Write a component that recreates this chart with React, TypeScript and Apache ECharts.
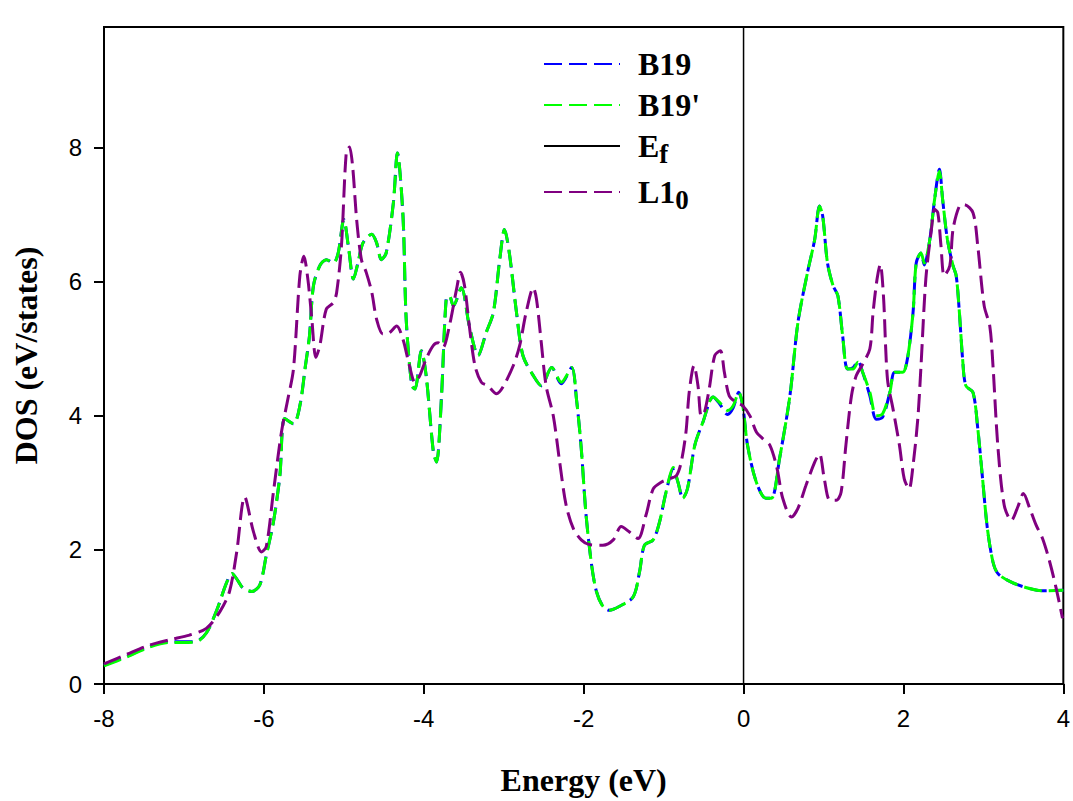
import React, { useEffect, useRef } from "react";
import * as echarts from "echarts";

// Energy (eV), DOS (states/eV)
const b19Points: [number, number][] = [
  [-8.0, 0.28], [-7.72, 0.41], [-7.43, 0.56], [-7.18, 0.63], [-6.95, 0.63], [-6.84, 0.64],
  [-6.72, 0.76], [-6.59, 1.1], [-6.47, 1.5], [-6.4, 1.65], [-6.33, 1.55], [-6.26, 1.43],
  [-6.15, 1.38], [-6.05, 1.48], [-5.97, 1.92], [-5.88, 2.42], [-5.8, 3.11], [-5.74, 3.96],
  [-5.63, 3.88], [-5.55, 4.15], [-5.48, 4.75], [-5.43, 5.19], [-5.38, 5.94], [-5.3, 6.24],
  [-5.22, 6.33], [-5.13, 6.28], [-5.07, 6.43], [-5.0, 6.93], [-4.94, 6.5], [-4.88, 6.04],
  [-4.82, 6.3], [-4.76, 6.58], [-4.65, 6.71], [-4.59, 6.58], [-4.53, 6.33], [-4.47, 6.43],
  [-4.38, 7.18], [-4.33, 7.92], [-4.26, 6.98], [-4.22, 5.44], [-4.15, 4.45], [-4.11, 4.4],
  [-4.03, 4.97], [-3.97, 4.6], [-3.88, 3.46], [-3.84, 3.31], [-3.78, 4.25], [-3.72, 5.74],
  [-3.68, 5.79], [-3.63, 5.64], [-3.53, 5.91], [-3.43, 5.34], [-3.32, 4.9], [-3.22, 5.24],
  [-3.13, 5.54], [-3.05, 6.33], [-2.99, 6.78], [-2.93, 6.43], [-2.84, 5.54], [-2.76, 4.9],
  [-2.63, 4.6], [-2.53, 4.45], [-2.4, 4.72], [-2.28, 4.48], [-2.15, 4.72], [-2.09, 4.25],
  [-2.03, 3.51], [-1.97, 2.52], [-1.9, 1.77], [-1.84, 1.38], [-1.76, 1.16], [-1.68, 1.1],
  [-1.55, 1.16], [-1.38, 1.3], [-1.3, 1.68], [-1.24, 2.07], [-1.13, 2.15], [-1.05, 2.42],
  [-0.97, 2.86], [-0.88, 3.2], [-0.82, 3.01], [-0.76, 2.77], [-0.7, 2.92], [-0.61, 3.56],
  [-0.51, 3.9], [-0.38, 4.28], [-0.3, 4.18], [-0.2, 4.02], [-0.13, 4.12], [-0.06, 4.35],
  [-0.01, 4.15], [0.05, 3.56], [0.16, 3.01], [0.28, 2.77], [0.35, 2.77], [0.45, 3.36],
  [0.58, 4.3], [0.68, 5.39], [0.8, 6.14], [0.89, 6.63], [0.95, 7.13], [0.99, 6.98],
  [1.05, 6.28], [1.12, 5.94], [1.18, 5.79], [1.24, 5.19], [1.3, 4.7], [1.37, 4.72],
  [1.43, 4.82], [1.49, 4.65], [1.58, 4.3], [1.66, 3.95], [1.74, 3.98], [1.83, 4.35],
  [1.89, 4.65], [1.99, 4.65], [2.05, 4.85], [2.12, 5.54], [2.16, 6.28], [2.22, 6.43],
  [2.26, 6.25], [2.33, 6.63], [2.39, 7.23], [2.45, 7.68], [2.49, 7.23], [2.55, 6.63],
  [2.62, 6.24], [2.66, 6.09], [2.7, 5.54], [2.74, 4.85], [2.78, 4.45], [2.87, 4.35],
  [2.93, 3.81], [2.99, 3.06], [3.05, 2.32], [3.12, 1.82], [3.18, 1.65], [3.33, 1.53],
  [3.53, 1.44], [3.74, 1.39], [4.0, 1.4],
];

const b19PrimePoints: [number, number][] = [
  [-8.0, 0.27], [-7.72, 0.4], [-7.43, 0.55], [-7.18, 0.62], [-6.95, 0.62], [-6.84, 0.63],
  [-6.72, 0.76], [-6.59, 1.1], [-6.47, 1.5], [-6.4, 1.65], [-6.33, 1.55], [-6.26, 1.43],
  [-6.15, 1.38], [-6.05, 1.48], [-5.97, 1.92], [-5.88, 2.42], [-5.8, 3.11], [-5.74, 3.96],
  [-5.63, 3.88], [-5.55, 4.15], [-5.48, 4.75], [-5.43, 5.19], [-5.38, 5.94], [-5.3, 6.24],
  [-5.22, 6.33], [-5.13, 6.28], [-5.07, 6.43], [-5.0, 6.93], [-4.94, 6.5], [-4.88, 6.04],
  [-4.82, 6.3], [-4.76, 6.58], [-4.65, 6.71], [-4.59, 6.58], [-4.53, 6.33], [-4.47, 6.43],
  [-4.38, 7.18], [-4.33, 7.92], [-4.26, 6.98], [-4.22, 5.44], [-4.15, 4.45], [-4.11, 4.4],
  [-4.03, 4.97], [-3.97, 4.6], [-3.88, 3.46], [-3.84, 3.31], [-3.78, 4.25], [-3.72, 5.74],
  [-3.68, 5.79], [-3.63, 5.64], [-3.53, 5.91], [-3.43, 5.34], [-3.32, 4.9], [-3.22, 5.24],
  [-3.13, 5.54], [-3.05, 6.33], [-2.99, 6.78], [-2.93, 6.43], [-2.84, 5.54], [-2.76, 4.9],
  [-2.63, 4.6], [-2.53, 4.45], [-2.4, 4.72], [-2.28, 4.5], [-2.15, 4.72], [-2.09, 4.25],
  [-2.03, 3.51], [-1.97, 2.52], [-1.9, 1.77], [-1.84, 1.38], [-1.76, 1.16], [-1.68, 1.1],
  [-1.55, 1.16], [-1.38, 1.3], [-1.3, 1.68], [-1.24, 2.07], [-1.13, 2.15], [-1.05, 2.42],
  [-0.97, 2.86], [-0.88, 3.23], [-0.82, 3.01], [-0.76, 2.77], [-0.7, 2.92], [-0.61, 3.56],
  [-0.51, 3.9], [-0.38, 4.28], [-0.3, 4.2], [-0.2, 4.08], [-0.13, 4.15], [-0.06, 4.35],
  [-0.01, 4.15], [0.05, 3.56], [0.16, 3.01], [0.28, 2.77], [0.35, 2.77], [0.45, 3.36],
  [0.58, 4.3], [0.68, 5.39], [0.8, 6.14], [0.89, 6.63], [0.95, 7.13], [0.99, 6.98],
  [1.05, 6.28], [1.12, 5.94], [1.18, 5.79], [1.24, 5.19], [1.3, 4.7], [1.37, 4.7],
  [1.43, 4.8], [1.49, 4.65], [1.58, 4.35], [1.66, 4.0], [1.74, 4.03], [1.83, 4.35],
  [1.89, 4.65], [1.99, 4.65], [2.05, 4.85], [2.12, 5.54], [2.16, 6.28], [2.22, 6.43],
  [2.26, 6.28], [2.33, 6.63], [2.39, 7.23], [2.45, 7.65], [2.49, 7.23], [2.55, 6.63],
  [2.62, 6.24], [2.66, 6.09], [2.7, 5.54], [2.74, 4.85], [2.78, 4.45], [2.87, 4.35],
  [2.93, 3.81], [2.99, 3.06], [3.05, 2.32], [3.12, 1.82], [3.18, 1.65], [3.33, 1.53],
  [3.53, 1.44], [3.74, 1.39], [4.0, 1.4],
];

const l10Points: [number, number][] = [
  [-8.0, 0.3], [-7.72, 0.44], [-7.43, 0.58], [-7.18, 0.66], [-6.93, 0.73], [-6.72, 0.83],
  [-6.55, 1.08], [-6.43, 1.38], [-6.34, 1.97], [-6.24, 2.79], [-6.13, 2.27], [-6.03, 1.97],
  [-5.97, 2.05], [-5.88, 2.87], [-5.78, 3.76], [-5.7, 4.25], [-5.63, 4.7], [-5.55, 6.09],
  [-5.5, 6.38], [-5.45, 6.04], [-5.4, 5.44], [-5.35, 4.87], [-5.3, 5.05], [-5.22, 5.59],
  [-5.13, 5.69], [-5.09, 5.84], [-5.03, 6.53], [-4.97, 7.92], [-4.93, 8.01], [-4.89, 7.72],
  [-4.84, 6.93], [-4.78, 6.33], [-4.72, 6.14], [-4.65, 5.84], [-4.59, 5.44], [-4.51, 5.22],
  [-4.43, 5.24], [-4.34, 5.34], [-4.26, 5.14], [-4.18, 4.75], [-4.11, 4.5], [-4.05, 4.6],
  [-3.97, 4.85], [-3.88, 5.05], [-3.82, 5.09], [-3.76, 5.02], [-3.68, 5.34], [-3.59, 5.89],
  [-3.54, 6.14], [-3.49, 5.94], [-3.43, 5.34], [-3.36, 4.75], [-3.28, 4.5], [-3.2, 4.45],
  [-3.09, 4.33], [-3.01, 4.43], [-2.88, 4.75], [-2.8, 5.05], [-2.72, 5.54], [-2.63, 5.91],
  [-2.59, 5.74], [-2.53, 5.09], [-2.47, 4.45], [-2.38, 4.0], [-2.3, 3.31], [-2.22, 2.67],
  [-2.13, 2.32], [-2.03, 2.15], [-1.93, 2.08], [-1.76, 2.07], [-1.63, 2.15], [-1.53, 2.35],
  [-1.43, 2.27], [-1.32, 2.17], [-1.22, 2.52], [-1.13, 2.91], [-1.03, 3.01], [-0.93, 3.06],
  [-0.84, 3.11], [-0.78, 3.31], [-0.72, 3.76], [-0.68, 4.35], [-0.62, 4.75], [-0.57, 4.45],
  [-0.53, 4.0], [-0.49, 4.05], [-0.43, 4.4], [-0.36, 4.9], [-0.29, 4.97], [-0.24, 4.65],
  [-0.18, 4.3], [-0.09, 4.2], [-0.01, 4.15], [0.08, 4.0], [0.16, 3.76], [0.24, 3.66],
  [0.33, 3.56], [0.42, 3.21], [0.49, 2.77], [0.6, 2.49], [0.68, 2.62], [0.78, 2.96],
  [0.89, 3.31], [0.95, 3.43], [1.01, 3.06], [1.08, 2.74], [1.16, 2.74], [1.22, 2.86],
  [1.28, 3.56], [1.35, 4.3], [1.41, 4.6], [1.49, 4.77], [1.58, 5.0], [1.62, 5.54],
  [1.67, 6.04], [1.71, 6.26], [1.75, 5.79], [1.8, 4.55], [1.87, 4.1], [1.95, 3.56],
  [2.01, 3.06], [2.07, 2.91], [2.12, 3.26], [2.18, 3.96], [2.22, 4.75], [2.28, 6.04],
  [2.35, 6.78], [2.39, 7.08], [2.43, 7.03], [2.47, 6.53], [2.51, 6.09], [2.58, 6.24],
  [2.62, 6.78], [2.7, 7.13], [2.76, 7.15], [2.87, 7.03], [2.93, 6.53], [3.01, 5.64],
  [3.08, 5.34], [3.12, 4.75], [3.18, 3.56], [3.26, 2.67], [3.35, 2.44], [3.43, 2.64],
  [3.5, 2.84], [3.58, 2.62], [3.66, 2.37], [3.74, 2.17], [3.83, 1.82], [3.91, 1.43],
  [3.99, 0.98],
];

const fermiLinePoints: [number, number][] = [[0, 0], [0, 9.8]];

const seriesNames = ["B19", "B19'", "Ef", "L10"];
const xTicks = [-8, -6, -4, -2, 0, 2, 4];
const yTicks = [0, 2, 4, 6, 8];

const SERIF = '"Times New Roman", "Liberation Serif", serif';
const SANS = 'Arial, "Liberation Sans", sans-serif';

export default function App() {
  const ref = useRef<HTMLDivElement>(null);

  useEffect(() => {
    if (!ref.current) return;
    const chart = echarts.init(ref.current, undefined, { renderer: "svg" });
    const dash = [18, 7];
    const option: any = {
      animation: false,
      backgroundColor: "#ffffff",
      grid: {
        left: 104,
        right: 9,
        top: 27,
        bottom: 115,
        show: true,
        borderColor: "#000",
        borderWidth: 2,
        containLabel: false,
      },
      legend: {
        orient: "vertical",
        left: 543,
        top: 48,
        padding: 0,
        itemWidth: 76,
        itemHeight: 14,
        itemGap: 9,
        selectedMode: false,
        data: seriesNames,
        itemStyle: { opacity: 0, borderWidth: 0 },
        formatter: (name: string) => {
          if (name === "Ef") return "{m|E}{s|f}";
          if (name === "L10") return "{m|L1}{s|0}";
          return `{m|${name}}`;
        },
        textStyle: {
          padding: [0, 0, 0, 13],
          rich: {
            m: {
              fontFamily: SERIF,
              fontWeight: "bold",
              fontSize: 32,
              lineHeight: 32,
              color: "#000",
              verticalAlign: "top",
            },
            s: {
              fontFamily: SERIF,
              fontWeight: "bold",
              fontSize: 27,
              lineHeight: 28,
              padding: [10, 0, 0, 0],
              color: "#000",
              verticalAlign: "top",
            },
          },
        },
      },
      xAxis: {
        type: "value",
        min: -8,
        max: 4,
        interval: 2,
        name: "Energy (eV)",
        nameLocation: "middle",
        nameGap: 80,
        nameTextStyle: { fontFamily: SERIF, fontWeight: "bold", fontSize: 32, color: "#000" },
        axisLine: { show: true, onZero: false, lineStyle: { color: "#000", width: 2 } },
        axisTick: { show: true, inside: false, length: 10, lineStyle: { color: "#000", width: 2 }, customValues: xTicks },
        axisLabel: { fontFamily: SANS, fontSize: 24, color: "#000", margin: 22, customValues: xTicks },
        splitLine: { show: false },
      },
      yAxis: {
        type: "value",
        min: 0,
        max: 9.8,
        interval: 2,
        name: "DOS (eV/states)",
        nameLocation: "middle",
        nameGap: 62,
        nameTextStyle: { fontFamily: SERIF, fontWeight: "bold", fontSize: 32, color: "#000" },
        axisLine: { show: true, onZero: false, lineStyle: { color: "#000", width: 2 } },
        axisTick: { show: true, inside: false, length: 10, lineStyle: { color: "#000", width: 2 }, customValues: yTicks },
        axisLabel: { fontFamily: SANS, fontSize: 24, color: "#000", margin: 22, customValues: yTicks },
        splitLine: { show: false },
      },
      series: [
        {
          name: "B19",
          type: "line",
          data: b19Points,
          showSymbol: false,
          symbol: "none",
          smooth: 0.3,
          color: "#0000ff",
          lineStyle: { color: "#0000ff", width: 3, type: dash },
          z: 2,
        },
        {
          name: "B19'",
          type: "line",
          data: b19PrimePoints,
          showSymbol: false,
          symbol: "none",
          smooth: 0.3,
          color: "#00ff00",
          lineStyle: { color: "#00ff00", width: 3, type: dash },
          z: 3,
        },
        {
          name: "Ef",
          type: "line",
          data: fermiLinePoints,
          showSymbol: false,
          symbol: "none",
          color: "#000",
          lineStyle: { color: "#000", width: 1.5, type: "solid" },
          z: 4,
        },
        {
          name: "L10",
          type: "line",
          data: l10Points,
          showSymbol: false,
          symbol: "none",
          smooth: 0.3,
          color: "#800080",
          lineStyle: { color: "#800080", width: 3, type: dash },
          z: 5,
        },
      ],
    };
    chart.setOption(option);
    return () => chart.dispose();
  }, []);

  return (
    <div
      ref={ref}
      style={{ position: "fixed", left: 0, top: 0, width: 1073, height: 801, background: "#fff" }}
    />
  );
}
